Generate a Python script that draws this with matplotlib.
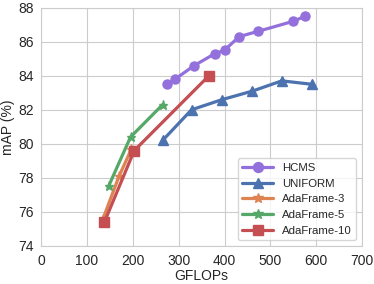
import matplotlib as mpl
mpl.use('Agg')
import matplotlib.pyplot as plt
import seaborn as sns

sns.set_style('whitegrid')
plt.rcParams['font.family'] = ['Liberation Sans', 'DejaVu Sans']

hcms_x = [274, 292, 334, 379, 400, 432, 472, 550, 576]
hcms_y = [83.5, 83.8, 84.6, 85.3, 85.5, 86.3, 86.6, 87.2, 87.5]
uni_x = [265, 328, 395, 461, 525, 590]
uni_y = [80.2, 82.0, 82.6, 83.1, 83.7, 83.5]
ada3_x = [135, 170, 197]
ada3_y = [75.6, 78.1, 79.7]
ada5_x = [147, 195, 265]
ada5_y = [77.5, 80.4, 82.3]
ada10_x = [138, 203, 366]
ada10_y = [75.4, 79.6, 84.0]

fig = plt.figure(figsize=(3.74, 2.84), dpi=100)
ax = fig.add_axes([0.11, 0.134, 0.858, 0.839])

ax.plot(hcms_x, hcms_y, color='#9370DB', marker='o', lw=2.3, ms=6.5, label='HCMS')
ax.plot(uni_x, uni_y, color='#4C72B0', marker='^', lw=2.3, ms=6.5, label='UNIFORM')
ax.plot(ada3_x, ada3_y, color='#DD8452', marker='*', lw=2.3, ms=6.5, label='AdaFrame-3')
ax.plot(ada5_x, ada5_y, color='#55A868', marker='*', lw=2.3, ms=6.5, label='AdaFrame-5')
ax.plot(ada10_x, ada10_y, color='#C44E52', marker='s', lw=2.3, ms=6.5, label='AdaFrame-10')

ax.set_xlim(0, 700)
ax.set_ylim(74, 88)
ax.set_xticks(range(0, 701, 100))
ax.set_yticks(range(74, 89, 2))
ax.tick_params(labelsize=10, pad=2)
ax.set_xlabel('GFLOPs', fontsize=10, labelpad=1)
ax.set_ylabel('mAP (%)', fontsize=10, labelpad=2)
ax.legend(loc='lower right', fontsize=8.2, handlelength=2.7, labelspacing=0.5,
          borderaxespad=0.5, markerscale=1.1)

plt.savefig('out.png', dpi=100)
plt.close()
